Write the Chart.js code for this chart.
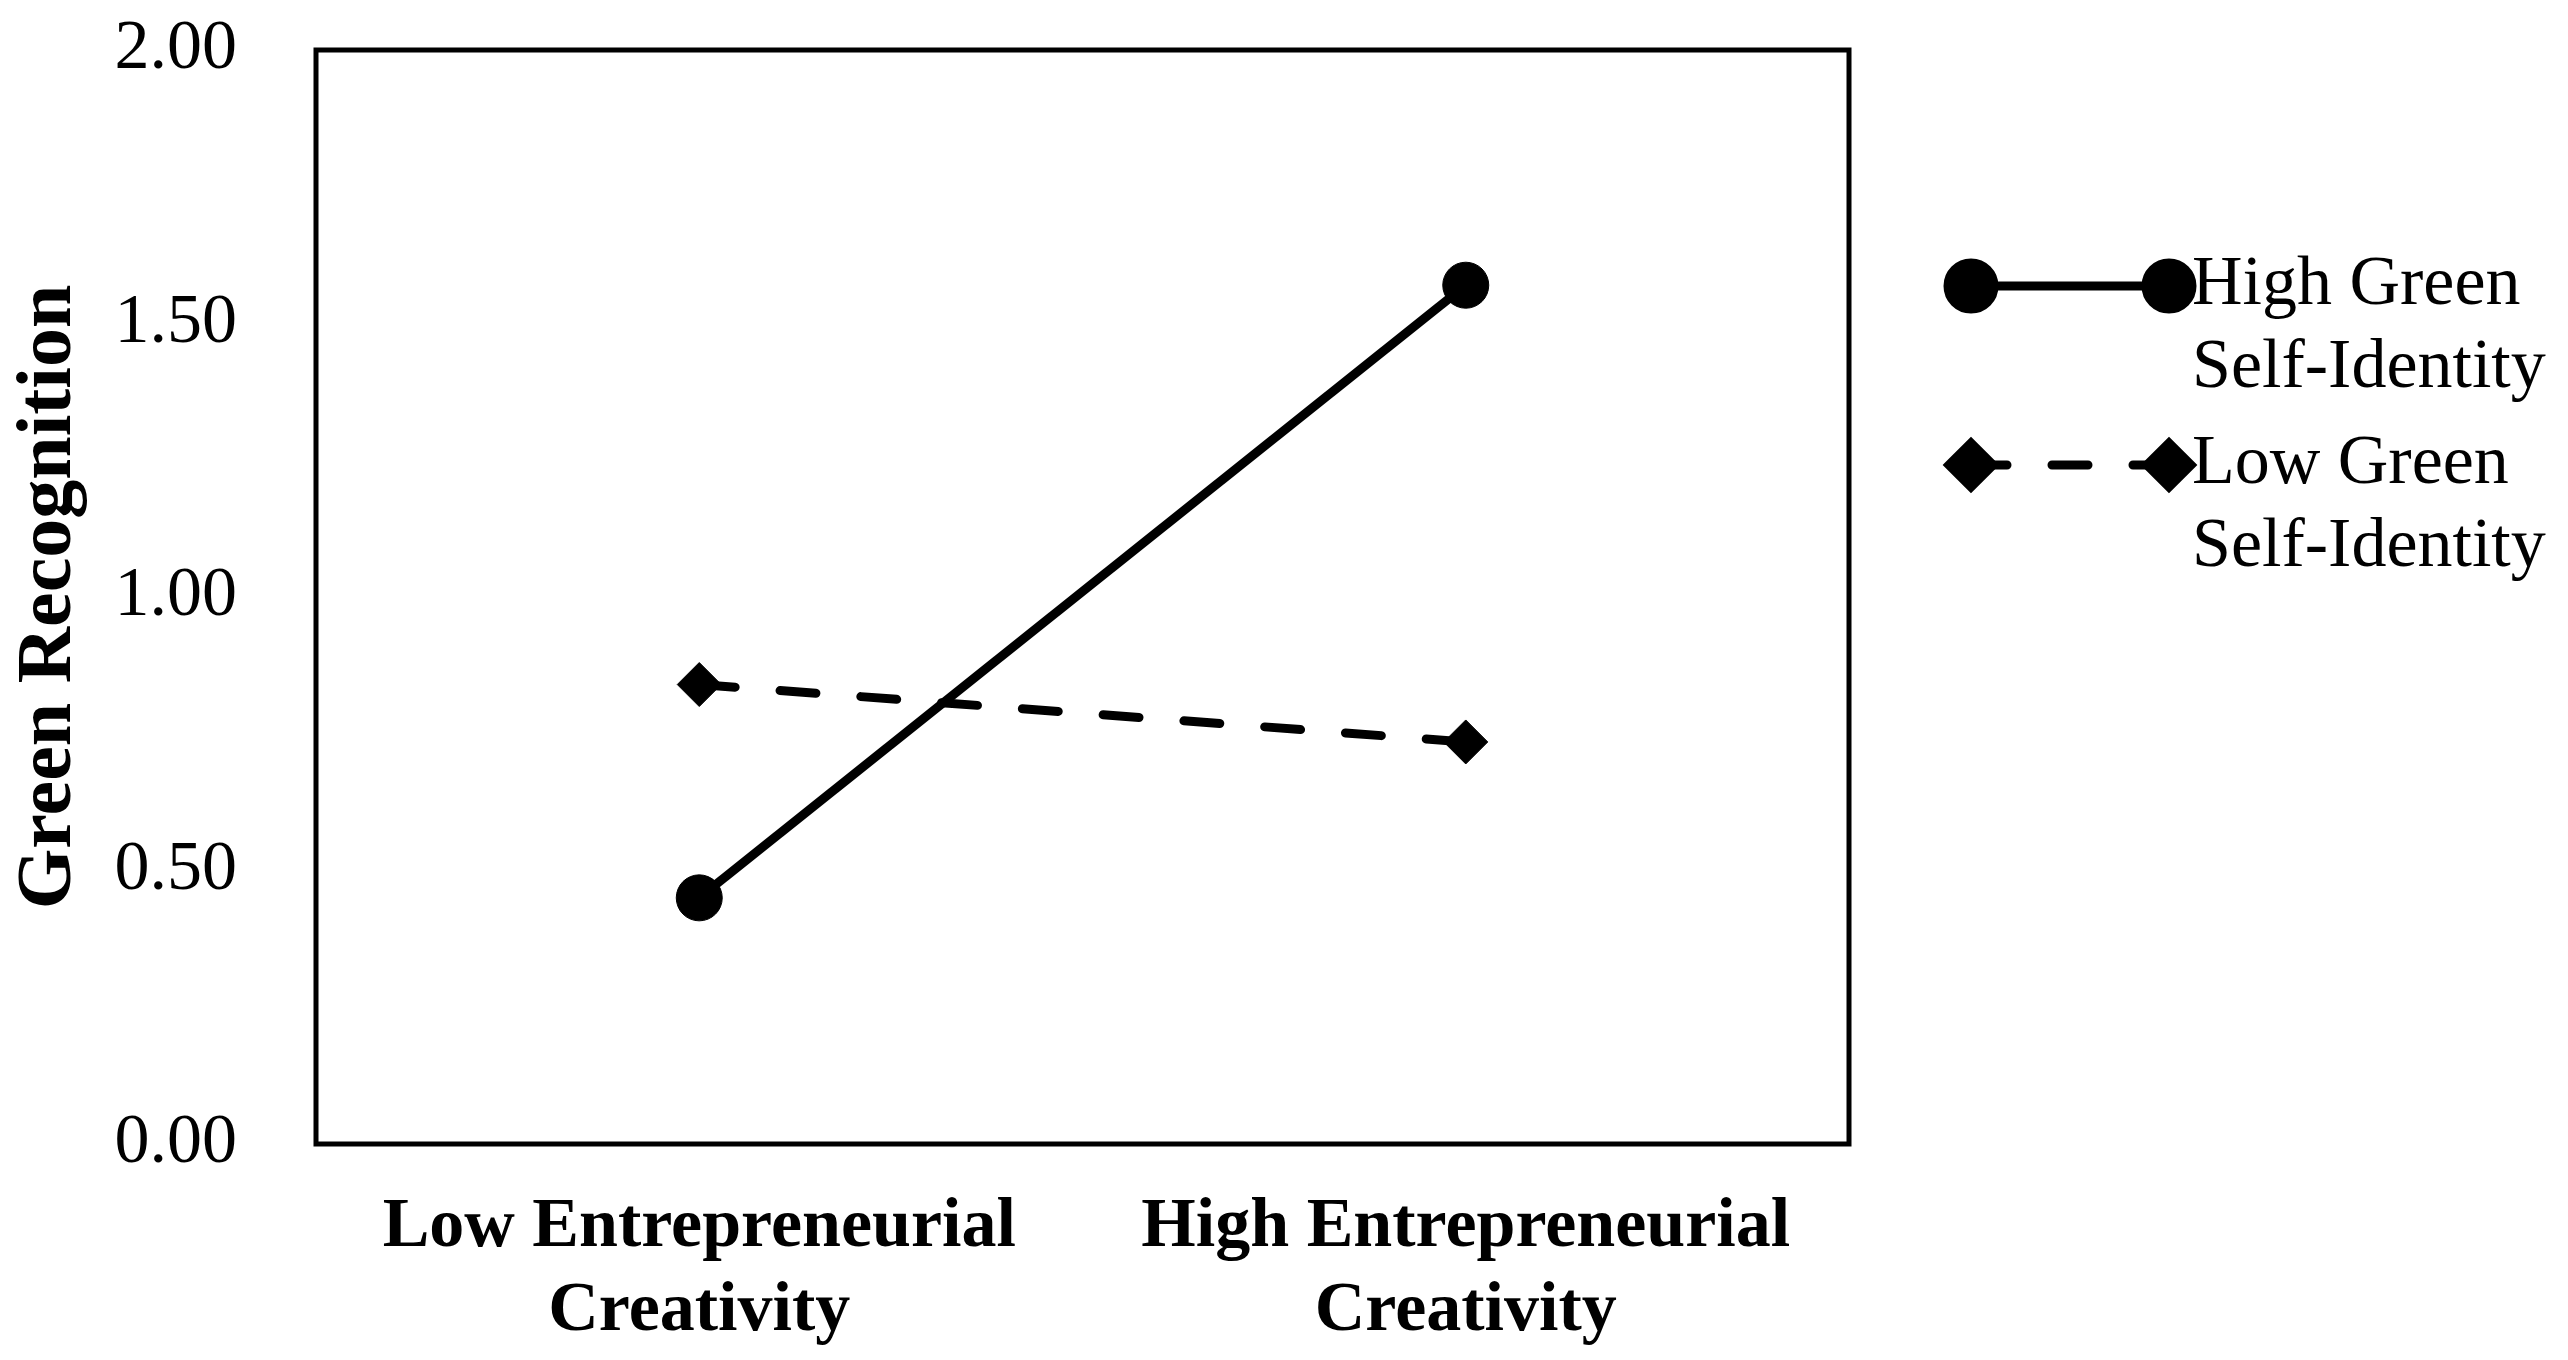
<!DOCTYPE html>
<html>
<head>
<meta charset="utf-8">
<title>Green Recognition</title>
<script src="https://cdn.jsdelivr.net/npm/chart.js@4/dist/chart.umd.min.js"></script>
<style>
    html, body { margin: 0; padding: 0; background: #ffffff; }
    #wrap { width: 2568px; height: 1360px; }
</style>
</head>
<body>
<div id="wrap"><canvas id="chart" width="2568" height="1360"></canvas></div>
<script>
// Data
const categories = [['Low Entrepreneurial', 'Creativity'], ['High Entrepreneurial', 'Creativity']];
const seriesNames = [['High Green', 'Self-Identity'], ['Low Green', 'Self-Identity']];
const highGreenValues = [0.45, 1.57];
const lowGreenValues = [0.84, 0.735];
const yTicks = [0, 0.5, 1, 1.5, 2];
const yTitle = 'Green Recognition';

const FONT = "'Liberation Serif', 'Times New Roman', serif";

// Plot frame (full box around the chart area)
const framePlugin = {
    id: 'frame',
    beforeDatasetsDraw(chart) {
        const a = chart.chartArea;
        const ctx = chart.ctx;
        ctx.save();
        ctx.strokeStyle = '#000';
        ctx.lineWidth = 5;
        ctx.strokeRect(a.left, a.top, a.right - a.left, a.bottom - a.top);
        ctx.restore();
    }
};

// Legend on the right: line with a marker at each end, two-line label
const sideLegend = {
    id: 'sideLegend',
    afterDraw(chart) {
        const ctx = chart.ctx;
        const x0 = 1971, x1 = 2169, textX = 2192;
        const firstY = 286, entryGap = 179, lineGap = 83;
        chart.data.datasets.forEach((ds, i) => {
            const y = firstY + i * entryGap;
            ctx.save();
            ctx.strokeStyle = ds.borderColor;
            ctx.lineWidth = ds.borderWidth;
            ctx.lineCap = ds.borderCapStyle || 'butt';
            ctx.setLineDash(ds.borderDash || []);
            ctx.beginPath();
            ctx.moveTo(x0, y);
            ctx.lineTo(x1, y);
            ctx.stroke();
            ctx.setLineDash([]);
            ctx.fillStyle = ds.pointBackgroundColor;
            ctx.strokeStyle = ds.pointBackgroundColor;
            const opts = { pointStyle: ds.pointStyle, radius: ds.pointRadius, rotation: 0, borderWidth: 1 };
            Chart.helpers.drawPoint(ctx, opts, x0, y);
            Chart.helpers.drawPoint(ctx, opts, x1, y);
            ctx.fillStyle = '#000';
            ctx.font = '70px ' + FONT;
            ctx.textAlign = 'left';
            ctx.textBaseline = 'middle';
            ds.label.forEach((line, k) => ctx.fillText(line, textX, y + k * lineGap));
            ctx.restore();
        });
    }
};

new Chart(document.getElementById('chart').getContext('2d'), {
    type: 'line',
    data: {
        labels: categories,
        datasets: [{
            label: seriesNames[0],
            data: highGreenValues,
            borderColor: '#000',
            borderWidth: 9,
            borderCapStyle: 'butt',
            pointStyle: 'circle',
            pointRadius: 23,
            pointBackgroundColor: '#000',
            pointBorderColor: '#000',
            pointBorderWidth: 1
        }, {
            label: seriesNames[1],
            data: lowGreenValues,
            borderColor: '#000',
            borderWidth: 9,
            borderDash: [36, 45],
            borderCapStyle: 'round',
            pointStyle: 'rectRot',
            pointRadius: 22,
            pointBackgroundColor: '#000',
            pointBorderColor: '#000',
            pointBorderWidth: 1
        }]
    },
    options: {
        responsive: false,
        animation: false,
        layout: { padding: { left: 0, right: 719, top: 50, bottom: 0 } },
        plugins: {
            legend: { display: false },
            tooltip: { enabled: false }
        },
        scales: {
            x: {
                type: 'category',
                offset: true,
                grid: { display: false, drawTicks: false },
                border: { display: false },
                ticks: {
                    color: '#000',
                    padding: 42,
                    maxRotation: 0,
                    autoSkip: false,
                    font: { family: FONT, size: 70, weight: 'bold' }
                },
                afterFit: s => {
                    s.height = 216;
                    s.paddingLeft = 0;
                    s.paddingRight = 0;
                }
            },
            y: {
                min: 0,
                max: 2,
                grid: { display: false, drawTicks: false },
                border: { display: false },
                afterBuildTicks: s => { s.ticks = yTicks.map(v => ({ value: v })); },
                ticks: {
                    color: '#000',
                    padding: 79,
                    callback: v => Number(v).toFixed(2),
                    font: { family: FONT, size: 70 }
                },
                title: {
                    display: true,
                    text: yTitle,
                    color: '#000',
                    padding: { top: 3, bottom: 0 },
                    font: { family: FONT, size: 78, weight: 'bold' }
                },
                afterFit: s => {
                    s.width = 316;
                    s.paddingTop = 0;
                    s.paddingBottom = 0;
                }
            }
        }
    },
    plugins: [framePlugin, sideLegend]
});
</script>
</body>
</html>
